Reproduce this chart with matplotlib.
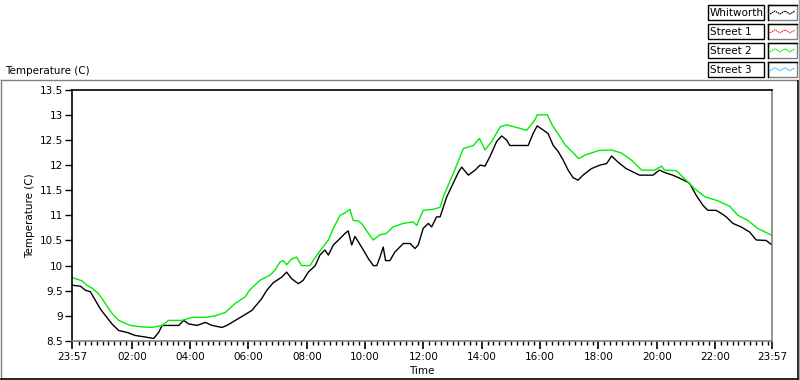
import matplotlib
matplotlib.use("Agg")
import matplotlib.pyplot as plt
from matplotlib.patches import Rectangle
from matplotlib.lines import Line2D

plt.rcParams['font.family'] = ['DejaVu Sans']

# ---- data (hours elapsed since 23:57) ----
whitworth_t = [0, 0.29, 0.46, 0.63, 0.8, 0.97, 1.14, 1.37, 1.6, 1.89, 2.17, 2.51, 2.8, 2.97, 3.09,
               3.66, 3.83, 4.0, 4.29, 4.57, 4.8, 5.14, 5.31, 5.6, 5.89, 6.17, 6.5, 6.68, 6.9, 7.19,
               7.36, 7.53, 7.76, 7.93, 8.1, 8.34, 8.5, 8.67, 8.79, 8.96, 9.19, 9.36, 9.47, 9.59,
               9.7, 9.81, 9.99, 10.16, 10.33, 10.45, 10.56, 10.67, 10.75, 10.9, 11.07, 11.36,
               11.59, 11.76, 11.87, 12.04, 12.22, 12.33, 12.5, 12.62, 12.85, 13.07, 13.25, 13.36,
               13.59, 13.82, 13.99, 14.16, 14.33, 14.56, 14.73, 14.9, 15.01, 15.36, 15.64, 15.81,
               15.95, 16.15, 16.32, 16.5, 16.67, 16.84, 17.01, 17.18, 17.35, 17.52, 17.81, 18.1,
               18.33, 18.5, 18.72, 19.0, 19.46, 19.92, 20.14, 20.37, 20.6, 20.94, 21.17, 21.4,
               21.63, 21.8, 22.08, 22.26, 22.43, 22.66, 22.94, 23.23, 23.46, 23.8, 24.0]
whitworth_v = [9.61, 9.59, 9.51, 9.48, 9.31, 9.14, 9.01, 8.84, 8.71, 8.67, 8.61, 8.58, 8.55, 8.67,
               8.81, 8.81, 8.91, 8.84, 8.81, 8.87, 8.81, 8.77, 8.81, 8.91, 9.01, 9.11, 9.34, 9.51,
               9.66, 9.77, 9.87, 9.74, 9.64, 9.71, 9.87, 10.0, 10.21, 10.31, 10.21, 10.41, 10.54,
               10.64, 10.69, 10.41, 10.58, 10.48, 10.31, 10.14, 10.0, 10.0, 10.17, 10.37, 10.1,
               10.1, 10.27, 10.44, 10.44, 10.34, 10.41, 10.74, 10.84, 10.77, 10.97, 10.97, 11.37,
               11.64, 11.86, 11.96, 11.8, 11.9, 12.0, 11.98, 12.17, 12.47, 12.58, 12.5, 12.39,
               12.39, 12.39, 12.63, 12.78, 12.7, 12.63, 12.39, 12.27, 12.1, 11.9, 11.75, 11.7,
               11.8, 11.93, 12.0, 12.03, 12.18, 12.06, 11.93, 11.8, 11.8, 11.9, 11.84, 11.8,
               11.71, 11.64, 11.4, 11.2, 11.1, 11.1, 11.04, 10.97, 10.84, 10.77, 10.67, 10.51,
               10.5, 10.41]

street2_t = [0, 0.34, 0.51, 0.69, 0.91, 1.14, 1.37, 1.6, 1.83, 2.0, 2.4, 2.74, 3.09, 3.31, 3.77,
             4.11, 4.57, 4.91, 5.26, 5.6, 5.94, 6.1, 6.45, 6.79, 6.96, 7.13, 7.24, 7.36, 7.53,
             7.7, 7.87, 8.16, 8.27, 8.5, 8.79, 8.96, 9.19, 9.36, 9.53, 9.64, 9.81, 9.93, 10.1,
             10.33, 10.55, 10.78, 11.01, 11.36, 11.7, 11.82, 12.04, 12.39, 12.62, 12.73, 13.07,
             13.42, 13.76, 13.97, 14.16, 14.39, 14.68, 14.9, 15.36, 15.59, 15.87, 15.95, 16.3,
             16.46, 16.69, 16.91, 17.14, 17.37, 17.6, 18.06, 18.5, 18.84, 19.18, 19.53, 19.98,
             20.21, 20.32, 20.72, 21.0, 21.35, 21.7, 22.14, 22.55, 22.83, 23.17, 23.51, 24.0]
street2_v = [9.76, 9.7, 9.61, 9.55, 9.44, 9.25, 9.05, 8.91, 8.85, 8.81, 8.78, 8.77, 8.81, 8.91,
             8.91, 8.97, 8.97, 9.0, 9.07, 9.25, 9.38, 9.52, 9.71, 9.81, 9.91, 10.07, 10.1, 10.02,
             10.13, 10.17, 10.0, 10.0, 10.1, 10.29, 10.51, 10.74, 11.0, 11.05, 11.12, 10.9, 10.89,
             10.84, 10.69, 10.51, 10.61, 10.64, 10.77, 10.84, 10.87, 10.8, 11.1, 11.12, 11.16,
             11.37, 11.83, 12.33, 12.39, 12.53, 12.3, 12.47, 12.76, 12.8, 12.73, 12.69, 12.9,
             13.0, 13.0, 12.8, 12.6, 12.4, 12.27, 12.13, 12.2, 12.29, 12.3, 12.24, 12.1, 11.9,
             11.9, 11.98, 11.9, 11.89, 11.73, 11.53, 11.37, 11.29, 11.18, 11.0, 10.9, 10.74, 10.6]

legend_names = ['Whitworth', 'Street 1', 'Street 2', 'Street 3']
legend_colors = ['#000000', '#ff3030', '#00ee00', '#30b8ff']

x_tick_labels = ['23:57', '02:00', '04:00', '06:00', '08:00', '10:00', '12:00',
                 '14:00', '16:00', '18:00', '20:00', '22:00', '23:57']
y_ticks = [8.5, 9, 9.5, 10, 10.5, 11, 11.5, 12, 12.5, 13, 13.5]
y_tick_labels = ['8.5', '9', '9.5', '10', '10.5', '11', '11.5', '12', '12.5', '13', '13.5']

W, H = 800, 380
fig = plt.figure(figsize=(W / 100, H / 100), dpi=100)

# overlay in pixel coordinates for panel frame & legend
ov = fig.add_axes([0, 0, 1, 1])
ov.set_xlim(0, W)
ov.set_ylim(H, 0)
ov.axis('off')

# panel border
ov.add_line(Line2D([0.5, 799], [79.5, 79.5], color='#808080', lw=1))
ov.add_line(Line2D([0.5, 0.5], [79.5, 380], color='#808080', lw=1))
ov.add_line(Line2D([797.5, 797.5], [80.5, 378.5], color='black', lw=1.2))
ov.add_line(Line2D([0.5, 797.5], [378.5, 378.5], color='black', lw=1.2))
ov.add_line(Line2D([799.3, 799.3], [0, 380], color='#a0a0a0', lw=1))

# top label
ov.text(5, 71, 'Temperature (C)', fontsize=7.5, ha='left', va='center')

# legend
zig = [(0, 6), (5, 3), (10, 6), (15, 3), (20, 6), (25, 3)]
for i, (name, col) in enumerate(zip(legend_names, legend_colors)):
    y0 = 5 + i * 18.9
    h = 15
    ov.add_patch(Rectangle((707.5, y0), 56, h, facecolor='white', edgecolor='black', lw=1))
    ov.text(709.5, y0 + h / 2 + 0.5, name, fontsize=7.5, ha='left', va='center')
    ov.add_patch(Rectangle((767.5, y0), 29, h, facecolor='white', edgecolor='#808080', lw=1))
    ov.add_line(Line2D([767.5, 796.5], [y0, y0], color='black', lw=1))
    ov.add_line(Line2D([767.5, 767.5], [y0, y0 + h], color='black', lw=1))
    ov.add_line(Line2D([770 + p[0] for p in zig], [y0 + 3 + p[1] for p in zig],
                       color=col, lw=0.9, linestyle=(0, (1.2, 0.6))))

# main axes
left, right, top, bottom = 72, 772, 89.7, 341
ax = fig.add_axes([left / W, 1 - bottom / H, (right - left) / W, (bottom - top) / H])
ax.plot(whitworth_t, whitworth_v, color=legend_colors[0], lw=1.0)
ax.plot(street2_t, street2_v, color=legend_colors[2], lw=1.0)

ax.set_xlim(0, 24)
ax.set_ylim(8.5, 13.5)
major_x = [0] + [2.05 + 2 * k for k in range(11)] + [24]
ax.set_xticks(major_x)
ax.set_xticklabels(x_tick_labels, fontsize=7.5)
ax.set_xticks([0.25 + 0.2 * k for k in range(119)
               if all(abs(0.25 + 0.2 * k - m) > 0.05 for m in major_x)], minor=True)
ax.set_yticks(y_ticks)
ax.set_yticklabels(y_tick_labels, fontsize=7.5)
ax.tick_params(axis='x', which='major', length=6, width=1.2, pad=2, color='black')
ax.tick_params(axis='x', which='minor', length=3, width=1, color='black')
ax.tick_params(axis='y', length=5, width=1, pad=1.5, color='black')

for s in ['top', 'left']:
    ax.spines[s].set_color('black')
    ax.spines[s].set_linewidth(1.2)
for s in ['bottom', 'right']:
    ax.spines[s].set_color('#808080')
    ax.spines[s].set_linewidth(1.2)

ax.set_xlabel('Time', fontsize=7.5, labelpad=3)
ax.set_ylabel('Temperature (C)', fontsize=7.5, labelpad=3)

fig.savefig('out.png', dpi=100)
